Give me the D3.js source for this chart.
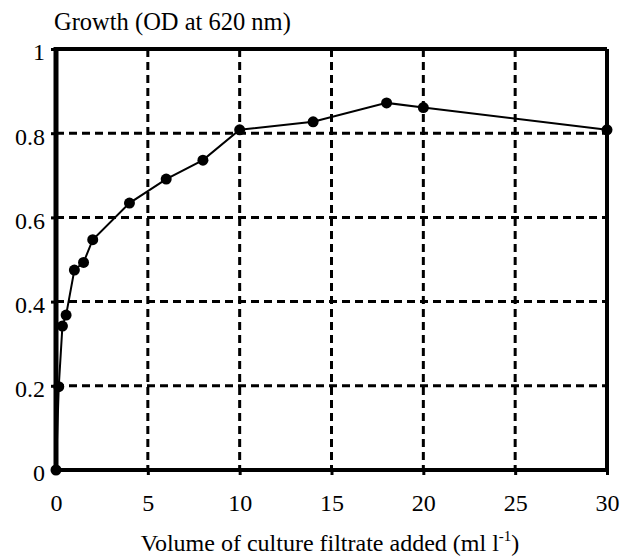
<!DOCTYPE html>
<html>
<head>
<meta charset="utf-8">
<script src="https://cdn.jsdelivr.net/npm/d3@7"></script>
<style>
  body { margin: 0; background: #fff; }
</style>
</head>
<body>
<div id="chart"></div>
<script>
// Growth vs volume of culture filtrate
const volume = [0, 0.15, 0.35, 0.55, 1, 1.5, 2, 4, 6, 8, 10, 14, 18, 20, 30];
const growth = [0, 0.198, 0.342, 0.368, 0.475, 0.493, 0.547, 0.634, 0.691, 0.736, 0.808, 0.827, 0.872, 0.861, 0.808];
const xTicks = [0, 5, 10, 15, 20, 25, 30];
const yTicks = [0, 0.2, 0.4, 0.6, 0.8, 1];
const yTickLabels = ['0', '0.2', '0.4', '0.6', '0.8', '1'];

const FONT = "'Liberation Serif', serif";
const W = 636, H = 556;
const margin = { top: 49, right: 29, bottom: 86, left: 56 };
const width = W - margin.left - margin.right;
const height = H - margin.top - margin.bottom;

const svg = d3.select('#chart').append('svg')
  .attr('width', W).attr('height', H);

const g = svg.append('g')
  .attr('transform', `translate(${margin.left},${margin.top})`);

const x = d3.scaleLinear().domain([0, 30]).range([0, width]);
const y = d3.scaleLinear().domain([0, 1]).range([height, 0]);

// dashed grid
g.append('g')
  .selectAll('line')
  .data(xTicks.slice(1, -1))
  .join('line')
  .attr('x1', d => x(d)).attr('x2', d => x(d))
  .attr('y1', 0).attr('y2', height)
  .attr('stroke', '#000').attr('stroke-width', 3)
  .attr('stroke-dasharray', '8,5');

g.append('g')
  .selectAll('line')
  .data(yTicks.slice(1, -1))
  .join('line')
  .attr('x1', 0).attr('x2', width)
  .attr('y1', d => y(d)).attr('y2', d => y(d))
  .attr('stroke', '#000').attr('stroke-width', 3)
  .attr('stroke-dasharray', '8,5');

// axes
const xAxis = g.append('g')
  .attr('transform', `translate(0,${height})`)
  .call(d3.axisBottom(x).tickValues(xTicks).tickSize(5).tickPadding(19).tickSizeOuter(0));
const yAxis = g.append('g')
  .call(d3.axisLeft(y).tickValues(yTicks).tickFormat((d, i) => yTickLabels[i]).tickSize(5).tickPadding(6).tickSizeOuter(0));

[xAxis, yAxis].forEach(a => {
  a.select('.domain').remove();
  a.selectAll('.tick line').attr('stroke', '#000').attr('stroke-width', 3);
  a.selectAll('.tick text')
    .attr('fill', '#000')
    .attr('font-family', FONT)
    .attr('font-size', 24);
});
yAxis.selectAll('.tick text').attr('dy', '0.45em');

// frame
g.append('line').attr('x1', 0).attr('x2', width).attr('y1', 0).attr('y2', 0)
  .attr('stroke', '#000').attr('stroke-width', 4);
g.append('line').attr('x1', width).attr('x2', width).attr('y1', 0).attr('y2', height)
  .attr('stroke', '#000').attr('stroke-width', 4);
g.append('line').attr('x1', 0).attr('x2', width).attr('y1', height).attr('y2', height)
  .attr('stroke', '#000').attr('stroke-width', 4);
g.append('line').attr('x1', 0).attr('x2', 0).attr('y1', -2).attr('y2', height + 2)
  .attr('stroke', '#000').attr('stroke-width', 5);

// data
const pts = volume.map((v, i) => [v, growth[i]]);
g.append('path')
  .datum(pts)
  .attr('fill', 'none')
  .attr('stroke', '#000')
  .attr('stroke-width', 2)
  .attr('d', d3.line().x(d => x(d[0])).y(d => y(d[1])));

g.selectAll('circle.pt')
  .data(pts)
  .join('circle')
  .attr('class', 'pt')
  .attr('cx', d => x(d[0]))
  .attr('cy', d => y(d[1]))
  .attr('r', 5.5)
  .attr('fill', '#000');

// titles
svg.append('text')
  .attr('x', 54).attr('y', 30)
  .attr('font-family', FONT)
  .attr('font-size', 24.5)
  .text('Growth (OD at 620 nm)');

const xt = svg.append('text')
  .attr('x', 330).attr('y', 551)
  .attr('text-anchor', 'middle')
  .attr('font-family', FONT)
  .attr('font-size', 24);
xt.append('tspan').text('Volume of culture filtrate added (ml l');
xt.append('tspan').attr('dy', -10).attr('font-size', 15).text('-1');
xt.append('tspan').attr('dy', 10).text(')');
</script>
</body>
</html>
